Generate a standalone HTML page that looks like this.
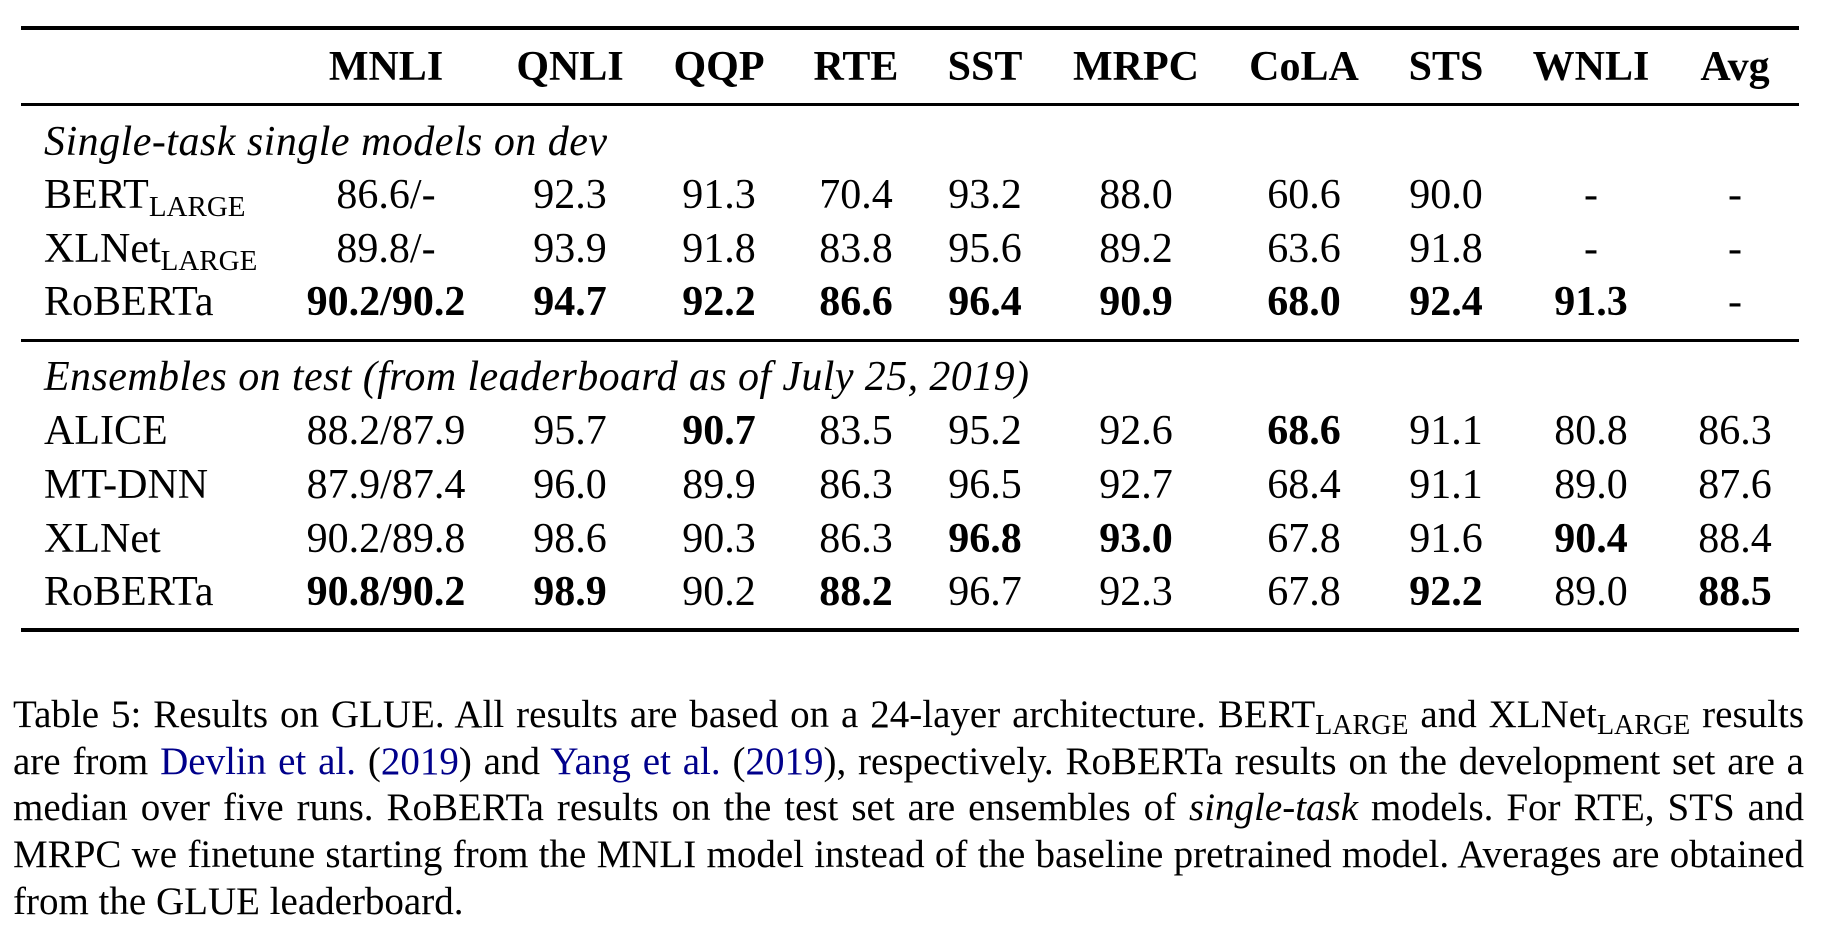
<!DOCTYPE html>
<html><head><meta charset="utf-8"><style>
html,body{margin:0;padding:0;background:#fff;}
body{width:1824px;height:934px;overflow:hidden;position:relative;}
svg{position:absolute;left:0;top:0;}
text{font-family:"Liberation Serif",serif;fill:#000;}
.h{font-weight:bold;font-size:42px;}
.c{font-size:42px;text-anchor:middle;}
.b{font-weight:bold;}
.l{font-size:42px;}
.cap{position:absolute;left:13px;width:1791px;font-family:"Liberation Serif",serif;font-size:39px;line-height:39px;text-align:justify;text-align-last:justify;white-space:nowrap;}
.cap.last{text-align-last:left;}
.blue{color:#00008b;}
sub{font-size:28px;vertical-align:-7px;line-height:0;}
</style></head><body>
<svg width="1824" height="934" xmlns="http://www.w3.org/2000/svg">
<rect x="21" y="26" width="1778" height="4"/>
<rect x="21" y="103" width="1778" height="3"/>
<rect x="21" y="339" width="1778" height="3"/>
<rect x="21" y="628" width="1778" height="4"/>
<g class="h" text-anchor="middle">
<text x="386" y="80">MNLI</text><text x="570" y="80">QNLI</text><text x="719" y="80">QQP</text>
<text x="856" y="80">RTE</text><text x="985" y="80">SST</text><text x="1136" y="80">MRPC</text>
<text x="1304" y="80">CoLA</text><text x="1446" y="80">STS</text><text x="1591" y="80">WNLI</text><text x="1735" y="80">Avg</text>
</g>
<text class="l" x="44" y="155" font-style="italic" textLength="563" lengthAdjust="spacing">Single-task single models on dev</text>
<text class="l" x="44" y="208">BERT<tspan font-size="29" dy="8">LARGE</tspan></text>
<text class="l" x="44" y="262">XLNet<tspan font-size="29" dy="8">LARGE</tspan></text>
<text class="l" x="44" y="315">RoBERTa</text>
<text class="l" x="44" y="390" font-style="italic" textLength="985" lengthAdjust="spacing">Ensembles on test (from leaderboard as of July 25, 2019)</text>
<text class="l" x="44" y="444">ALICE</text>
<text class="l" x="44" y="498">MT-DNN</text>
<text class="l" x="44" y="552">XLNet</text>
<text class="l" x="44" y="605">RoBERTa</text>
<g class="c">
<text x="386" y="208">86.6/-</text><text x="570" y="208">92.3</text><text x="719" y="208">91.3</text><text x="856" y="208">70.4</text><text x="985" y="208">93.2</text><text x="1136" y="208">88.0</text><text x="1304" y="208">60.6</text><text x="1446" y="208">90.0</text><text x="1591" y="208">-</text><text x="1735" y="208">-</text>
<text x="386" y="262">89.8/-</text><text x="570" y="262">93.9</text><text x="719" y="262">91.8</text><text x="856" y="262">83.8</text><text x="985" y="262">95.6</text><text x="1136" y="262">89.2</text><text x="1304" y="262">63.6</text><text x="1446" y="262">91.8</text><text x="1591" y="262">-</text><text x="1735" y="262">-</text>
<g class="b"><text x="386" y="315">90.2/90.2</text><text x="570" y="315">94.7</text><text x="719" y="315">92.2</text><text x="856" y="315">86.6</text><text x="985" y="315">96.4</text><text x="1136" y="315">90.9</text><text x="1304" y="315">68.0</text><text x="1446" y="315">92.4</text><text x="1591" y="315">91.3</text></g><text x="1735" y="315">-</text>
<text x="386" y="444">88.2/87.9</text><text x="570" y="444">95.7</text><text x="719" y="444" class="b">90.7</text><text x="856" y="444">83.5</text><text x="985" y="444">95.2</text><text x="1136" y="444">92.6</text><text x="1304" y="444" class="b">68.6</text><text x="1446" y="444">91.1</text><text x="1591" y="444">80.8</text><text x="1735" y="444">86.3</text>
<text x="386" y="498">87.9/87.4</text><text x="570" y="498">96.0</text><text x="719" y="498">89.9</text><text x="856" y="498">86.3</text><text x="985" y="498">96.5</text><text x="1136" y="498">92.7</text><text x="1304" y="498">68.4</text><text x="1446" y="498">91.1</text><text x="1591" y="498">89.0</text><text x="1735" y="498">87.6</text>
<text x="386" y="552">90.2/89.8</text><text x="570" y="552">98.6</text><text x="719" y="552">90.3</text><text x="856" y="552">86.3</text><text x="985" y="552" class="b">96.8</text><text x="1136" y="552" class="b">93.0</text><text x="1304" y="552">67.8</text><text x="1446" y="552">91.6</text><text x="1591" y="552" class="b">90.4</text><text x="1735" y="552">88.4</text>
<text x="386" y="605" class="b">90.8/90.2</text><text x="570" y="605" class="b">98.9</text><text x="719" y="605">90.2</text><text x="856" y="605" class="b">88.2</text><text x="985" y="605">96.7</text><text x="1136" y="605">92.3</text><text x="1304" y="605">67.8</text><text x="1446" y="605" class="b">92.2</text><text x="1591" y="605">89.0</text><text x="1735" y="605" class="b">88.5</text>
</g>
</svg>
<div class="cap" style="top:695px">Table 5: Results on GLUE. All results are based on a 24-layer architecture. BERT<sub>LARGE</sub> and XLNet<sub>LARGE</sub> results</div>
<div class="cap" style="top:742px">are from <span class="blue">Devlin et al.</span> (<span class="blue">2019</span>) and <span class="blue">Yang et al.</span> (<span class="blue">2019</span>), respectively. RoBERTa results on the development set are a</div>
<div class="cap" style="top:788px">median over five runs. RoBERTa results on the test set are ensembles of <i>single-task</i> models. For RTE, STS and</div>
<div class="cap" style="top:835px">MRPC we finetune starting from the MNLI model instead of the baseline pretrained model. Averages are obtained</div>
<div class="cap last" style="top:882px">from the GLUE leaderboard.</div>
</body></html>
